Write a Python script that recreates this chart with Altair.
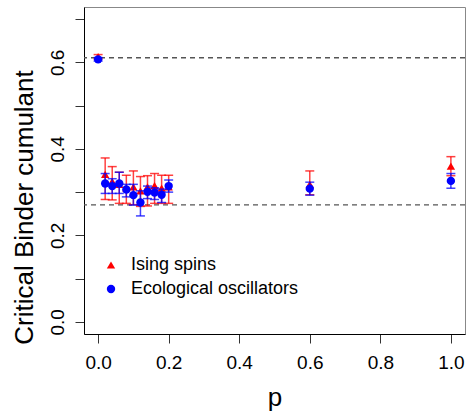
import altair as alt
import pandas as pd

# ---- data ----
p_values = [0.0, 0.02, 0.04, 0.06, 0.08, 0.10, 0.12, 0.14, 0.16, 0.18, 0.20, 0.6, 1.0]

ising_val = [0.613, 0.341, 0.325, 0.318, 0.310, 0.312, 0.303, 0.312, 0.315, 0.309, 0.312, 0.318, 0.360]
ising_lo = [0.608, 0.283, 0.282, 0.274, 0.274, 0.271, 0.267, 0.268, 0.274, 0.274, 0.274, 0.294, 0.338]
ising_hi = [0.618, 0.379, 0.359, 0.346, 0.339, 0.349, 0.336, 0.338, 0.343, 0.339, 0.339, 0.349, 0.382]

eco_val = [0.607, 0.320, 0.314, 0.320, 0.306, 0.293, 0.276, 0.301, 0.299, 0.294, 0.314, 0.308, 0.326]
eco_lo = [0.603, 0.297, 0.297, 0.297, 0.289, 0.270, 0.245, 0.285, 0.283, 0.276, 0.300, 0.293, 0.309]
eco_hi = [0.611, 0.343, 0.331, 0.346, 0.318, 0.318, 0.303, 0.314, 0.310, 0.307, 0.328, 0.323, 0.343]

series_names = ["Ising spins", "Ecological oscillators"]
series_colors = ["#FF0000", "#0000FF"]
series_shapes = ["triangle-up", "circle"]

ref_lines = [0.6107, 0.2705]

x_ticks = [0.0, 0.2, 0.4, 0.6, 0.8, 1.0]
y_ticks = [0.0, 0.1, 0.2, 0.3, 0.4, 0.5, 0.6, 0.7]

rows = []
for name, vals, los, his in [
    (series_names[0], ising_val, ising_lo, ising_hi),
    (series_names[1], eco_val, eco_lo, eco_hi),
]:
    for pv, v, lo, hi in zip(p_values, vals, los, his):
        rows.append({"series": name, "p": pv, "val": v, "lo": lo, "hi": hi})
df = pd.DataFrame(rows)
ref_df = pd.DataFrame({"ref": ref_lines})

FONT = "Liberation Sans"

x_enc = alt.X(
    "p:Q",
    scale=alt.Scale(domain=[-0.04, 1.04], nice=False, zero=False),
    axis=alt.Axis(
        values=x_ticks, format=".1f", title="p", grid=False,
        labelFontSize=19, labelPadding=10, labelBaseline="top",
        tickSize=9, tickColor="#333333", domainColor="black",
        labelColor="black", titleColor="black",
        titleFontSize=26, titleFontWeight="normal",
        titleY=71, titleBaseline="alphabetic",
    ),
)

y_axis = alt.Axis(
    values=y_ticks, grid=False, title="Critical Binder cumulant",
    labelExpr="(round(datum.value*10) % 2 == 0) ? format(datum.value, '.1f') : ''",
    labelFontSize=19, labelAngle=270, labelAlign="center", labelBaseline="alphabetic",
    labelPadding=12, tickSize=9, tickColor="#333333", domainColor="black",
    labelColor="black", titleColor="black",
    titleFontSize=26, titleFontWeight="normal", titleAngle=270,
    titleAlign="center", titleBaseline="alphabetic", titleX=-52, titleY=200,
)
y_scale = alt.Scale(domain=[-0.028, 0.728], nice=False, zero=False)

legend = alt.Legend(
    title=None, orient="none", legendX=18, legendY=249,
    labelFontSize=18, labelFont=FONT, labelColor="black", symbolSize=70,
    rowPadding=6, labelOffset=11, padding=0, symbolStrokeWidth=0,
    labelLimit=0, symbolOpacity=1,
)
color_enc = alt.Color(
    "series:N",
    scale=alt.Scale(domain=series_names, range=series_colors),
    legend=legend,
)
shape_enc = alt.Shape(
    "series:N",
    scale=alt.Scale(domain=series_names, range=series_shapes),
    legend=legend,
)

base = alt.Chart(df)

hlines = alt.Chart(ref_df).mark_rule(
    color="#555555", strokeDash=[5, 4], strokeWidth=1.3
).encode(y=alt.Y("ref:Q", scale=y_scale, axis=y_axis))

layers = [hlines]
for name in series_names:
    sub = base.transform_filter(alt.datum.series == name)
    bars = sub.mark_rule(strokeWidth=1.5, opacity=0.75).encode(
        x=x_enc, y=alt.Y("lo:Q", scale=y_scale, axis=y_axis), y2="hi:Q", color=color_enc
    )
    cap_lo = sub.mark_tick(orient="horizontal", size=9, thickness=1.5, opacity=0.75).encode(
        x=x_enc, y=alt.Y("lo:Q", scale=y_scale, axis=y_axis), color=color_enc
    )
    cap_hi = sub.mark_tick(orient="horizontal", size=9, thickness=1.5, opacity=0.75).encode(
        x=x_enc, y=alt.Y("hi:Q", scale=y_scale, axis=y_axis), color=color_enc
    )
    pts = sub.mark_point(filled=True, opacity=1, size=70).encode(
        x=x_enc, y=alt.Y("val:Q", scale=y_scale, axis=y_axis),
        color=color_enc, shape=shape_enc,
    )
    layers += [bars, cap_lo, cap_hi, pts]

chart = alt.layer(*layers).properties(
    width=381, height=327,
    autosize=alt.AutoSizeParams(type="none"),
    padding={"left": 84, "top": 7, "right": 2, "bottom": 77},
).configure(font=FONT).configure_view(
    stroke="#888888", strokeWidth=1
)

chart.save("out.html", embed_options={"renderer": "svg", "actions": False})
